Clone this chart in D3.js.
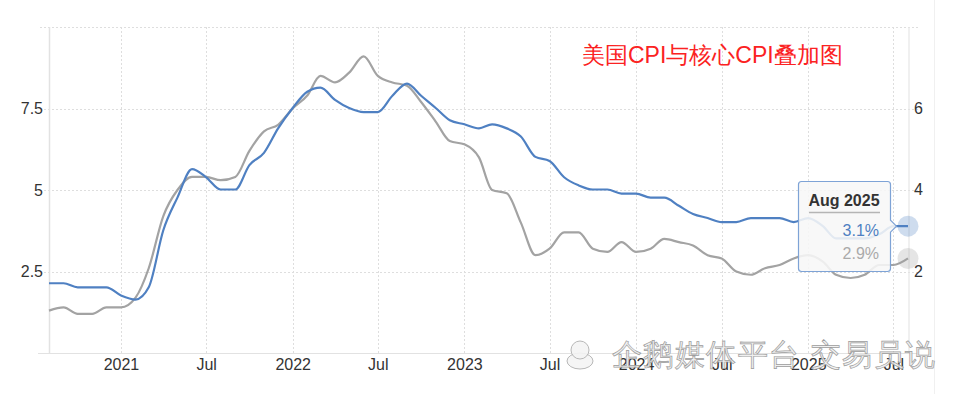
<!DOCTYPE html>
<html><head><meta charset="utf-8">
<script src="https://cdn.jsdelivr.net/npm/d3@7"></script>
<style>
html,body{margin:0;padding:0;background:#fff;}
svg{display:block;}
text{font-family:"Liberation Sans",Arial,sans-serif;}
</style></head>
<body>
<svg id="chart" width="960" height="394"></svg>
<script>
// Months from Aug 2020 to Aug 2025
const months = ["2020-08","2020-09","2020-10","2020-11","2020-12",
"2021-01","2021-02","2021-03","2021-04","2021-05","2021-06","2021-07","2021-08","2021-09","2021-10","2021-11","2021-12",
"2022-01","2022-02","2022-03","2022-04","2022-05","2022-06","2022-07","2022-08","2022-09","2022-10","2022-11","2022-12",
"2023-01","2023-02","2023-03","2023-04","2023-05","2023-06","2023-07","2023-08","2023-09","2023-10","2023-11","2023-12",
"2024-01","2024-02","2024-03","2024-04","2024-05","2024-06","2024-07","2024-08","2024-09","2024-10","2024-11","2024-12",
"2025-01","2025-02","2025-03","2025-04","2025-05","2025-06","2025-07","2025-08"];
// Headline CPI YoY (left axis, gray)
const cpi = [1.3,1.4,1.2,1.2,1.4,
1.4,1.7,2.6,4.2,5.0,5.4,5.4,5.3,5.4,6.2,6.8,7.0,
7.5,7.9,8.5,8.3,8.6,9.1,8.5,8.3,8.2,7.7,7.1,6.5,
6.4,6.0,5.0,4.9,4.0,3.0,3.2,3.7,3.7,3.2,3.1,3.4,
3.1,3.2,3.5,3.4,3.3,3.0,2.9,2.5,2.4,2.6,2.7,2.9,
3.0,2.8,2.4,2.3,2.4,2.7,2.7,2.9];
// Core CPI YoY (right axis, blue)
const core = [1.7,1.7,1.6,1.6,1.6,
1.4,1.3,1.6,3.0,3.8,4.5,4.3,4.0,4.0,4.6,4.9,5.5,
6.0,6.4,6.5,6.2,6.0,5.9,5.9,6.3,6.6,6.3,6.0,5.7,
5.6,5.5,5.6,5.5,5.3,4.8,4.7,4.3,4.1,4.0,4.0,3.9,
3.9,3.8,3.8,3.6,3.4,3.3,3.2,3.2,3.3,3.3,3.3,3.2,
3.3,3.1,2.8,2.8,2.8,2.9,3.1,3.1];
const leftTicks = [2.5, 5, 7.5];
const leftGrid = [2.5, 5, 7.5, 10];
const rightTicks = [2, 4, 6];
const xTickDates = ["2021-01","2021-07","2022-01","2022-07","2023-01","2023-07","2024-01","2024-07","2025-01","2025-07"];
const xTickLabels = ["2021","Jul","2022","Jul","2023","Jul","2024","Jul","2025","Jul"];
const titleText = "美国CPI与核心CPI叠加图";
const watermarkText = "企鹅媒体平台 交易员说";
const tooltipTitle = "Aug 2025";
const tooltipCore = "3.1%";
const tooltipCpi = "2.9%";

const parse = d3.timeParse("%Y-%m");
const dates = months.map(parse);

const svg = d3.select("#chart");
const L = 49, R = 908, T = 27, B = 353;
const x = d3.scaleTime().domain([dates[0], dates[dates.length-1]]).range([L, R]);
const yL = d3.scaleLinear().domain([0, 10]).range([B, T]);
const yR = d3.scaleLinear().domain([0, 8]).range([B - 0.5, T - 0.5]);

// page divider
svg.append("line").attr("x1",934.5).attr("x2",934.5).attr("y1",0).attr("y2",394)
  .attr("stroke","#f0f0f0").attr("stroke-width",1);

// horizontal grid
svg.append("g").selectAll("line").data(leftGrid).join("line")
  .attr("x1", 40).attr("x2", 918)
  .attr("y1", d => Math.round(yL(d)) + 0.5).attr("y2", d => Math.round(yL(d)) + 0.5)
  .attr("stroke", "#dedede").attr("stroke-dasharray", "2,2");
// vertical grid
svg.append("g").selectAll("line").data(xTickDates.map(parse)).join("line")
  .attr("x1", d => Math.round(x(d)) + 0.5).attr("x2", d => Math.round(x(d)) + 0.5)
  .attr("y1", T).attr("y2", B)
  .attr("stroke", "#dedede").attr("stroke-dasharray", "2,2");
// axis frame lines
svg.append("line").attr("x1", L+0.5).attr("x2", L+0.5).attr("y1", T).attr("y2", B)
  .attr("stroke", "#e2e2e2").attr("stroke-width", 1.5);
svg.append("line").attr("x1", R+1).attr("x2", R+1).attr("y1", T).attr("y2", B)
  .attr("stroke", "#e6e6e6").attr("stroke-width", 1.2);
svg.append("line").attr("x1", 38).attr("x2", 918).attr("y1", B+0.5).attr("y2", B+0.5)
  .attr("stroke", "#e2e2e2").attr("stroke-width", 1);

// axes (labels only)
const axL = svg.append("g").attr("transform", `translate(${L-6},0)`)
  .call(d3.axisLeft(yL).tickValues(leftTicks).tickSize(0).tickPadding(0).tickFormat(d3.format("")));
const axR = svg.append("g").attr("transform", `translate(${R+6},0)`)
  .call(d3.axisRight(yR).tickValues(rightTicks).tickSize(0).tickPadding(0).tickFormat(d3.format("")));
const axB = svg.append("g").attr("transform", `translate(0,${B})`)
  .call(d3.axisBottom(x).tickValues(xTickDates.map(parse)).tickSize(0).tickPadding(0)
    .tickFormat((d,i) => xTickLabels[i]));
[axL, axR, axB].forEach(a => {
  a.select(".domain").remove();
  a.selectAll("text").attr("font-family", '"Liberation Sans",Arial,sans-serif')
    .attr("font-size", 16).attr("fill", "#333");
});
axB.selectAll("text").attr("dy", null).attr("y", 17);

// lines
const lineL = d3.line().x((d,i) => x(dates[i])).y(d => yL(d)).curve(d3.curveMonotoneX);
const lineR = d3.line().x((d,i) => x(dates[i])).y(d => yR(d)).curve(d3.curveMonotoneX);
svg.append("path").attr("d", lineL(cpi)).attr("fill","none")
  .attr("stroke","#a3a3a3").attr("stroke-width",2.2).attr("stroke-linejoin","round");
svg.append("path").attr("d", lineR(core)).attr("fill","none")
  .attr("stroke","#4f80c2").attr("stroke-width",2.2).attr("stroke-linejoin","round");

// title
svg.append("text").attr("x", 582).attr("y", 63).text(titleText)
  .attr("font-family", '"Noto Sans CJK SC",sans-serif').attr("font-size", 23)
  .attr("fill", "#fb2222");

// hover markers
const last = dates.length - 1;
svg.append("circle").attr("cx", x(dates[last])).attr("cy", yR(core[last])).attr("r", 10.5)
  .attr("fill", "#4f80c2").attr("fill-opacity", 0.28);
svg.append("circle").attr("cx", x(dates[last])).attr("cy", yL(cpi[last])).attr("r", 10.5)
  .attr("fill", "#a3a3a3").attr("fill-opacity", 0.28);

// tooltip
const tx = 798.5, ty = 181.5, tw = 92, th = 90;
const ay = yR(core[last]);
const tipPath = `M${tx+3},${ty} H${tx+tw-3} Q${tx+tw},${ty} ${tx+tw},${ty+3} V${ay-6} L${tx+tw+6},${ay} L${tx+tw},${ay+6} V${ty+th-3} Q${tx+tw},${ty+th} ${tx+tw-3},${ty+th} H${tx+3} Q${tx},${ty+th} ${tx},${ty+th-3} V${ty+3} Q${tx},${ty} ${tx+3},${ty} Z`;
svg.append("path").attr("d", tipPath).attr("fill", "#f7f7f7").attr("fill-opacity", 0.88)
  .attr("stroke", "#7ea3d6").attr("stroke-width", 1.2);
svg.append("text").attr("x", 844).attr("y", 205.5).attr("text-anchor","middle")
  .attr("font-size", 16).attr("font-weight","bold").attr("fill","#333").text(tooltipTitle);
svg.append("line").attr("x1", 809).attr("x2", 880).attr("y1", 212.5).attr("y2", 212.5)
  .attr("stroke","#b5b5b5").attr("stroke-width",1.5);
svg.append("text").attr("x", 879).attr("y", 235.5).attr("text-anchor","end")
  .attr("font-size", 16).attr("fill","#4f80c2").text(tooltipCore);
svg.append("text").attr("x", 879).attr("y", 259).attr("text-anchor","end")
  .attr("font-size", 16).attr("fill","#aaaaaa").text(tooltipCpi);

// watermark penguin
const pg = svg.append("g").attr("fill","#f4f4f4").attr("fill-opacity",0.9)
  .attr("stroke","#b8b8b8").attr("stroke-width",1);
pg.append("ellipse").attr("cx",580).attr("cy",361).attr("rx",13).attr("ry",8);
pg.append("ellipse").attr("cx",580).attr("cy",350).attr("rx",9).attr("ry",9);
// watermark text
svg.append("text").attr("x", 612).attr("y", 365).text(watermarkText)
  .attr("font-family", '"Noto Sans CJK SC",sans-serif').attr("font-size", 30)
  .attr("textLength", 323).attr("lengthAdjust","spacing")
  .attr("fill", "#eeeeee").attr("fill-opacity", 0.85)
  .attr("stroke", "#9c9c9c").attr("stroke-width", 0.7);
</script>
</body></html>
